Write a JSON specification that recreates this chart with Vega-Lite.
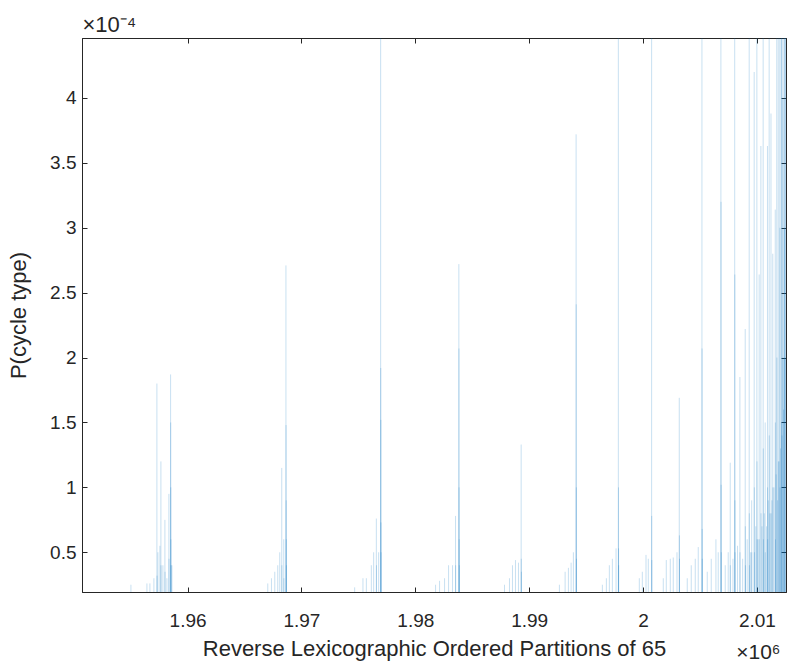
{
  "$schema": "https://vega.github.io/schema/vega-lite/v6.json",
  "width": 704,
  "height": 554,
  "autosize": {"type": "none"},
  "padding": {"left": 82, "top": 38, "right": 5, "bottom": 79},
  "background": "white",
  "config": {
    "font": "Liberation Sans",
    "view": {"stroke": "#262626", "strokeWidth": 1},
    "axis": {
      "grid": false,
      "domain": true,
      "domainColor": "#262626",
      "tickColor": "#262626",
      "labelColor": "#262626",
      "titleColor": "#262626",
      "labelFont": "Liberation Sans",
      "titleFont": "Liberation Sans",
      "labelFontSize": 19,
      "titleFontSize": 22,
      "titleFontWeight": "normal",
      "tickSize": -5,
      "zindex": 1
    }
  },
  "data": {
    "values": [
      {"index": 1955026, "p": 2.5e-5},
      {"index": 1956430, "p": 2.6e-5},
      {"index": 1956693, "p": 2.6e-5},
      {"index": 1957044, "p": 3.0e-5},
      {"index": 1957307, "p": 1.8e-4},
      {"index": 1957317, "p": 3.2e-5},
      {"index": 1957395, "p": 5.0e-5},
      {"index": 1957570, "p": 5.5e-5},
      {"index": 1957658, "p": 1.2e-4},
      {"index": 1957668, "p": 4.0e-5},
      {"index": 1957833, "p": 4.0e-5},
      {"index": 1958009, "p": 7.5e-5},
      {"index": 1958019, "p": 3.5e-5},
      {"index": 1958184, "p": 3.0e-5},
      {"index": 1958360, "p": 9.5e-5},
      {"index": 1958370, "p": 4.5e-5},
      {"index": 1958509, "p": 1.87e-4},
      {"index": 1958519, "p": 1.5e-4},
      {"index": 1958529, "p": 1.0e-4},
      {"index": 1958539, "p": 6.0e-5},
      {"index": 1958549, "p": 4.0e-5},
      {"index": 1958623, "p": 4.0e-5},

      {"index": 1967044, "p": 2.6e-5},
      {"index": 1967368, "p": 3.0e-5},
      {"index": 1967658, "p": 3.5e-5},
      {"index": 1967921, "p": 4.0e-5},
      {"index": 1968097, "p": 5.0e-5},
      {"index": 1968272, "p": 1.15e-4},
      {"index": 1968282, "p": 4.0e-5},
      {"index": 1968447, "p": 6.0e-5},
      {"index": 1968457, "p": 3.0e-5},
      {"index": 1968640, "p": 2.71e-4},
      {"index": 1968650, "p": 1.48e-4},
      {"index": 1968660, "p": 9.0e-5},
      {"index": 1968670, "p": 6.0e-5},
      {"index": 1968680, "p": 4.0e-5},

      {"index": 1974676, "p": 2.3e-5},
      {"index": 1975404, "p": 3.0e-5},
      {"index": 1975702, "p": 3.0e-5},
      {"index": 1976140, "p": 4.0e-5},
      {"index": 1976342, "p": 5.0e-5},
      {"index": 1976579, "p": 7.6e-5},
      {"index": 1976589, "p": 4.0e-5},
      {"index": 1976781, "p": 5.0e-5},
      {"index": 1976957, "p": 5.5e-4},
      {"index": 1976967, "p": 1.92e-4},
      {"index": 1976977, "p": 1.52e-4},
      {"index": 1976987, "p": 7.3e-5},
      {"index": 1976997, "p": 5.0e-5},

      {"index": 1981781, "p": 2.5e-5},
      {"index": 1982132, "p": 2.8e-5},
      {"index": 1982571, "p": 3.0e-5},
      {"index": 1982922, "p": 4.0e-5},
      {"index": 1983272, "p": 4.0e-5},
      {"index": 1983535, "p": 7.8e-5},
      {"index": 1983545, "p": 4.0e-5},
      {"index": 1983825, "p": 2.72e-4},
      {"index": 1983835, "p": 2.07e-4},
      {"index": 1983845, "p": 1.0e-4},
      {"index": 1983855, "p": 6.0e-5},
      {"index": 1983865, "p": 4.0e-5},

      {"index": 1987834, "p": 2.5e-5},
      {"index": 1988272, "p": 3.0e-5},
      {"index": 1988535, "p": 4.0e-5},
      {"index": 1988799, "p": 4.4e-5},
      {"index": 1989062, "p": 4.2e-5},
      {"index": 1989298, "p": 1.33e-4},
      {"index": 1989308, "p": 4.5e-5},
      {"index": 1989318, "p": 3.5e-5},

      {"index": 1992658, "p": 2.5e-5},
      {"index": 1993158, "p": 3.5e-5},
      {"index": 1993448, "p": 3.8e-5},
      {"index": 1993684, "p": 4.2e-5},
      {"index": 1993886, "p": 5.0e-5},
      {"index": 1994123, "p": 3.72e-4},
      {"index": 1994133, "p": 2.41e-4},
      {"index": 1994143, "p": 1.0e-4},
      {"index": 1994153, "p": 4.5e-5},

      {"index": 1996430, "p": 2.5e-5},
      {"index": 1996781, "p": 3.0e-5},
      {"index": 1997044, "p": 4.0e-5},
      {"index": 1997308, "p": 4.5e-5},
      {"index": 1997632, "p": 5.3e-5},
      {"index": 1997833, "p": 6.2e-4},
      {"index": 1997843, "p": 1.0e-4},
      {"index": 1997853, "p": 5.3e-5},
      {"index": 1997863, "p": 4.0e-5},

      {"index": 1999676, "p": 3.0e-5},
      {"index": 1999939, "p": 3.5e-5},
      {"index": 2000263, "p": 4.8e-5},
      {"index": 2000465, "p": 4.5e-5},
      {"index": 2000755, "p": 6.5e-4},
      {"index": 2000765, "p": 7.8e-5},
      {"index": 2000775, "p": 4.4e-5},

      {"index": 2001781, "p": 3.0e-5},
      {"index": 2002044, "p": 4.4e-5},
      {"index": 2002395, "p": 4.5e-5},
      {"index": 2002658, "p": 4.6e-5},
      {"index": 2002983, "p": 5.0e-5},
      {"index": 2003185, "p": 1.69e-4},
      {"index": 2003195, "p": 6.3e-5},
      {"index": 2003205, "p": 4.5e-5},

      {"index": 2003886, "p": 3.0e-5},
      {"index": 2004237, "p": 4.0e-5},
      {"index": 2004588, "p": 4.5e-5},
      {"index": 2004851, "p": 5.4e-5},
      {"index": 2005176, "p": 6.8e-4},
      {"index": 2005186, "p": 2.07e-4},
      {"index": 2005196, "p": 6.8e-5},
      {"index": 2005206, "p": 4.5e-5},

      {"index": 2005641, "p": 3.5e-5},
      {"index": 2005992, "p": 4.5e-5},
      {"index": 2006404, "p": 6.0e-5},
      {"index": 2006606, "p": 5.0e-5},
      {"index": 2006842, "p": 7.0e-4},
      {"index": 2006852, "p": 3.2e-4},
      {"index": 2006862, "p": 1.02e-4},
      {"index": 2006872, "p": 5.0e-5},

      {"index": 2007220, "p": 4.0e-5},
      {"index": 2007483, "p": 5.0e-5},
      {"index": 2007659, "p": 1.19e-4},
      {"index": 2007669, "p": 4.0e-5},
      {"index": 2007900, "p": 4.5e-5},
      {"index": 2008054, "p": 7.0e-4},
      {"index": 2008064, "p": 2.64e-4},
      {"index": 2008074, "p": 9.0e-5},
      {"index": 2008084, "p": 5.0e-5},
      {"index": 2008300, "p": 5.5e-5},
      {"index": 2008509, "p": 1.85e-4},
      {"index": 2008519, "p": 5.0e-5},
      {"index": 2008750, "p": 4.5e-5},
      {"index": 2008975, "p": 2.22e-4},
      {"index": 2008985, "p": 7.0e-5},
      {"index": 2008995, "p": 4.0e-5},
      {"index": 2009150, "p": 6.0e-5},
      {"index": 2009325, "p": 7.0e-4},
      {"index": 2009335, "p": 8.0e-5},
      {"index": 2009345, "p": 4.0e-5},
      {"index": 2009450, "p": 5.0e-5},
      {"index": 2009544, "p": 9.0e-5},
      {"index": 2009554, "p": 5.0e-5},
      {"index": 2009764, "p": 4.2e-4},
      {"index": 2009774, "p": 1.0e-4},
      {"index": 2009784, "p": 5.0e-5},
      {"index": 2009900, "p": 7.0e-5},
      {"index": 2010000, "p": 7.0e-4},
      {"index": 2010010, "p": 1.2e-4},
      {"index": 2010020, "p": 6.0e-5},
      {"index": 2010100, "p": 6.0e-5},
      {"index": 2010203, "p": 2.64e-4},
      {"index": 2010213, "p": 6.0e-5},
      {"index": 2010352, "p": 3.63e-4},
      {"index": 2010362, "p": 8.0e-5},
      {"index": 2010450, "p": 7.0e-5},
      {"index": 2010553, "p": 7.0e-4},
      {"index": 2010563, "p": 1.3e-4},
      {"index": 2010573, "p": 6.0e-5},
      {"index": 2010650, "p": 8.0e-5},
      {"index": 2010729, "p": 1.5e-4},
      {"index": 2010739, "p": 5.0e-5},
      {"index": 2010850, "p": 7.0e-5},
      {"index": 2010930, "p": 3.63e-4},
      {"index": 2010940, "p": 1.0e-4},
      {"index": 2010950, "p": 6.0e-5},
      {"index": 2011000, "p": 9.0e-5},
      {"index": 2011080, "p": 7.0e-4},
      {"index": 2011090, "p": 1.4e-4},
      {"index": 2011150, "p": 8.0e-5},
      {"index": 2011238, "p": 3.88e-4},
      {"index": 2011248, "p": 8.0e-5},
      {"index": 2011320, "p": 9.0e-5},
      {"index": 2011396, "p": 2.8e-4},
      {"index": 2011406, "p": 1.0e-4},
      {"index": 2011500, "p": 1.0e-4},
      {"index": 2011615, "p": 3.14e-4},
      {"index": 2011625, "p": 1.5e-4},
      {"index": 2011635, "p": 6.0e-5},
      {"index": 2011690, "p": 1.1e-4},
      {"index": 2011747, "p": 7.0e-4},
      {"index": 2011757, "p": 2.0e-4},
      {"index": 2011820, "p": 9.0e-5},
      {"index": 2011878, "p": 7.0e-4},
      {"index": 2011888, "p": 1.2e-4},
      {"index": 2011950, "p": 1.2e-4},
      {"index": 2012010, "p": 7.0e-4},
      {"index": 2012020, "p": 3.0e-4},
      {"index": 2012030, "p": 1.0e-4},
      {"index": 2012080, "p": 1.3e-4},
      {"index": 2012142, "p": 7.0e-4},
      {"index": 2012152, "p": 7.0e-4},
      {"index": 2012162, "p": 1.5e-4},
      {"index": 2012210, "p": 1.4e-4},
      {"index": 2012274, "p": 7.0e-4},
      {"index": 2012284, "p": 4.0e-4},
      {"index": 2012294, "p": 2.0e-4},
      {"index": 2012340, "p": 1.6e-4},
      {"index": 2012405, "p": 7.0e-4},
      {"index": 2012415, "p": 7.0e-4},
      {"index": 2012425, "p": 3.0e-4},
      {"index": 2012470, "p": 2.0e-4},
      {"index": 2012530, "p": 7.0e-4},
      {"index": 2012540, "p": 5.0e-4}
    ]
  },
  "layer": [
    {
      "mark": {"type": "rule", "clip": true, "color": "#0072BD", "opacity": 0.22, "strokeWidth": 1},
      "encoding": {
        "x": {
          "field": "index",
          "type": "quantitative",
          "scale": {"domain": [1950728, 2012558], "nice": false, "zero": false},
          "axis": {
            "orient": "bottom",
            "values": [1960000, 1970000, 1980000, 1990000, 2000000, 2010000],
            "labelExpr": "format(datum.value/1000000, '.2~f')",
            "labelPadding": 24,
            "title": "Reverse Lexicographic Ordered Partitions of 65",
            "titlePadding": 8
          }
        },
        "y": {
          "field": "p",
          "type": "quantitative",
          "scale": {"domain": [1.94e-5, 4.462e-4], "nice": false, "zero": false},
          "axis": {
            "orient": "left",
            "values": [5e-5, 1e-4, 1.5e-4, 2e-4, 2.5e-4, 3e-4, 3.5e-4, 4e-4],
            "labelExpr": "format(datum.value*10000, '.2~f')",
            "labelPadding": 11,
            "title": "P(cycle type)",
            "titlePadding": 19
          }
        },
        "y2": {"datum": 0}
      }
    },
    {
      "mark": {"type": "point", "opacity": 0},
      "encoding": {
        "x": {
          "field": "index",
          "type": "quantitative",
          "axis": {
            "orient": "top",
            "values": [1960000, 1970000, 1980000, 1990000, 2000000, 2010000],
            "labels": false,
            "title": "×10⁻⁴",
            "titleFontSize": 22,
            "titleAnchor": "start",
            "titleAlign": "left",
            "titlePadding": 1
          }
        },
        "y": {
          "field": "p",
          "type": "quantitative",
          "axis": {
            "orient": "right",
            "values": [5e-5, 1e-4, 1.5e-4, 2e-4, 2.5e-4, 3e-4, 3.5e-4, 4e-4],
            "labels": false,
            "title": null
          }
        }
      }
    }
  ],
  "resolve": {"axis": {"x": "independent", "y": "independent"}},
  "title": {
    "text": "×10⁶",
    "orient": "bottom",
    "anchor": "end",
    "fontSize": 21,
    "fontWeight": "normal",
    "font": "Liberation Sans",
    "color": "#262626",
    "offset": -17,
    "dx": -8
  }
}
